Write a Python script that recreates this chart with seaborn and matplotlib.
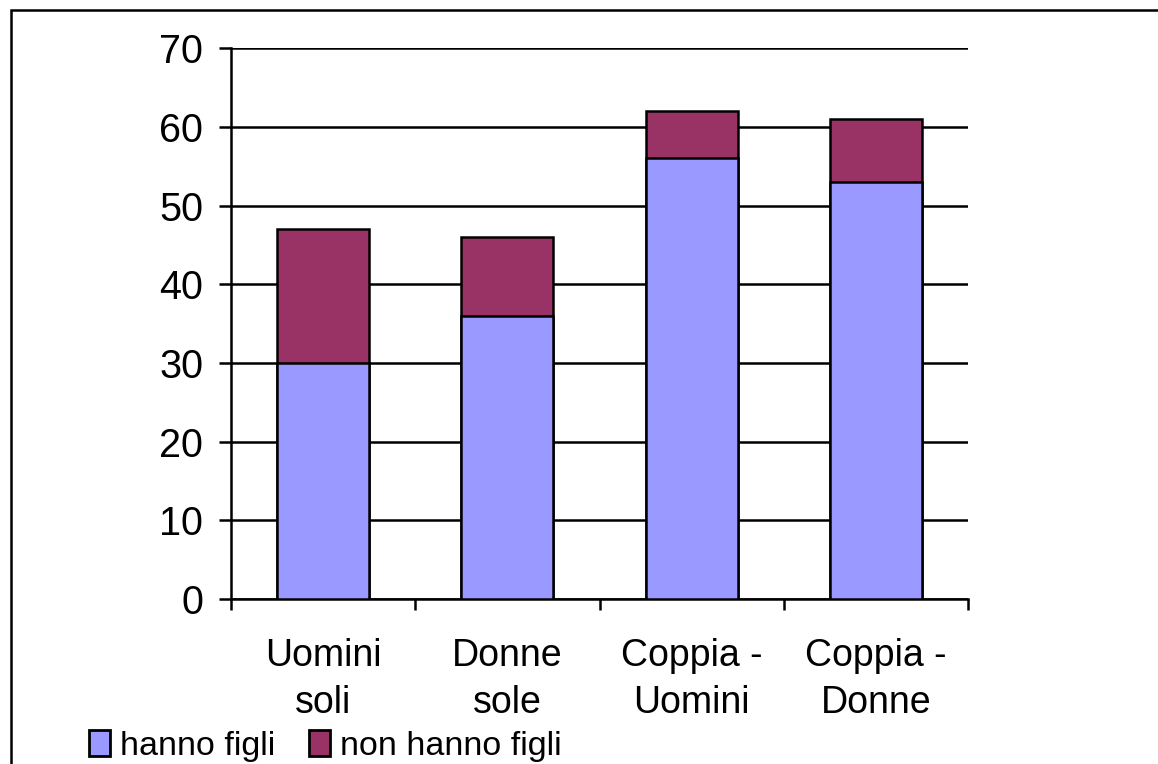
import matplotlib
matplotlib.use("Agg")
import matplotlib.pyplot as plt
import matplotlib.patches as mpatches
import pandas as pd
import seaborn as sns

categories = ["Uomini\nsoli", "Donne\nsole", "Coppia -\nUomini", "Coppia -\nDonne"]
hanno_figli = [30, 36, 56, 53]
non_hanno_figli = [17, 10, 6, 8]

blue = "#9999FF"
purple = "#993366"

sns.set_style("white")
plt.rcParams["font.family"] = ["Liberation Sans", "DejaVu Sans"]
plt.rcParams["text.color"] = "black"
plt.rcParams["xtick.color"] = "black"
plt.rcParams["ytick.color"] = "black"

df = pd.DataFrame({
    "categoria": categories,
    "hanno": hanno_figli,
    "totale": [a + b for a, b in zip(hanno_figli, non_hanno_figli)],
})

fig = plt.figure(figsize=(11.58, 7.64), dpi=100)
ax = fig.add_axes([0.1995, 0.216, 0.6365, 0.721])

# stacked bars: total first, then the lower segment on top of it
sns.barplot(data=df, x="categoria", y="totale", color=purple, width=0.5,
            edgecolor="black", linewidth=1.8, saturation=1, ax=ax, zorder=3)
sns.barplot(data=df, x="categoria", y="hanno", color=blue, width=0.5,
            edgecolor="black", linewidth=1.8, saturation=1, ax=ax, zorder=4)

ax.set_xlim(-0.5, 3.5)
ax.set_ylim(0, 70)
ax.set_yticks(range(0, 71, 10))
ax.set_xlabel("")
ax.set_ylabel("")

ax.yaxis.grid(True, color="black", linewidth=1.8)
ax.set_axisbelow(True)
for side in ["top", "right"]:
    ax.spines[side].set_visible(False)
for side in ["left", "bottom"]:
    ax.spines[side].set_color("black")
    ax.spines[side].set_linewidth(1.8)

ax.tick_params(axis="y", which="major", direction="out", length=9, width=1.8,
               left=True, labelsize=28.5, pad=11, labelcolor="black")
ax.tick_params(axis="x", which="major", length=0, labelsize=27, pad=28,
               labelcolor="black")
for lbl in ax.get_xticklabels():
    lbl.set_linespacing(1.38)
ax.set_xticks([-0.5, 0.5, 1.5, 2.5, 3.5], minor=True)
ax.tick_params(axis="x", which="minor", direction="out", length=8, width=1.8,
               bottom=True)

handles = [mpatches.Patch(facecolor=blue, edgecolor="black", linewidth=2.0),
           mpatches.Patch(facecolor=purple, edgecolor="black", linewidth=2.0)]
fig.legend(handles, ["hanno figli", "non hanno figli"], loc="lower left",
           bbox_to_anchor=(0.05, -0.037), ncol=2, frameon=False, fontsize=24.5,
           handlelength=0.62, handleheight=0.8, handletextpad=0.3,
           columnspacing=1.0)

# outer frame around the chart area
fig.patches.append(mpatches.Rectangle((0.0095, -0.05), 1.1, 1.037,
                                      transform=fig.transFigure, fill=False,
                                      edgecolor="black", linewidth=1.8))

fig.savefig("out.png", dpi=100)
